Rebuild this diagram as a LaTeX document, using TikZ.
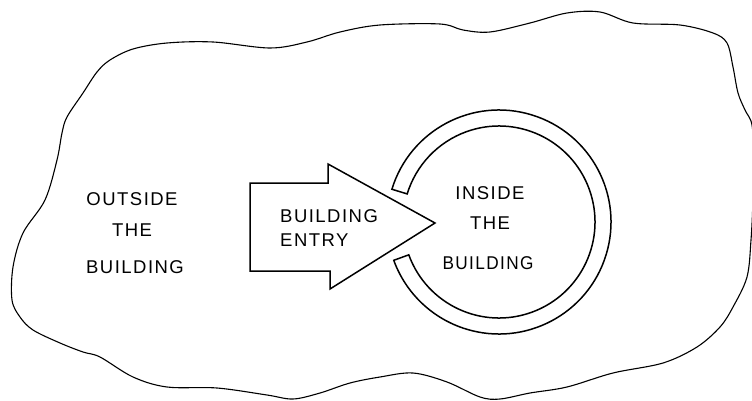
\documentclass[tikz,border=0pt]{standalone}
\usepackage{fontspec}
\newfontfamily\lett[LetterSpace=8]{Liberation Sans}
\begin{document}
\begin{tikzpicture}[x=1pt,y=-1pt,
  lbl/.style={font=\lett\fontsize{18.5}{20}\selectfont, inner sep=0pt, text=black},
  outline/.style={line width=1.1pt, line join=round},
  thick/.style={line width=1.5pt, line join=miter}]
\useasboundingbox (0,0) rectangle (752,401);
% blob (outside the building)
\begin{scope}
\clip (0,0) rectangle (752,401);
\draw[outline] plot[smooth cycle, tension=0.55] coordinates {
 (45,200) (57,160) (62,133) (67,117) (83,93) (97,72) (110,60) (133,49) (167,43)
 (213,42) (270,48) (307,42) (340,32) (380,25) (440,24) (463,30) (490,32) (530,23)
 (567,13) (600,12) (633,23) (680,25) (713,33) (727,43) (733,67) (738,93) (745,110)
 (752,125) (754,160) (753,200) (751,240) (747,277) (733,307) (720,327) (697,347)
 (663,363) (613,373) (567,387) (530,393) (500,399) (480,397) (447,382) (413,373)
 (380,377) (350,383) (320,393) (293,399) (267,395) (217,388) (167,387) (133,377)
 (100,357) (83,352) (60,343) (33,330) (20,317) (12,300) (13,267) (23,233)};
\end{scope}
% ring (inside the building)
\coordinate (c) at (499,222);
\draw[thick] ([shift={(-163:112)}]c) arc[start angle=-163, end angle=160, radius=112]
  -- ([shift={(160:96)}]c) arc[start angle=160, end angle=-163, radius=96] -- cycle;
% arrow (building entry)
\draw[thick] (250,183) -- (328,183) -- (328,164) -- (435,223) -- (330,289)
  -- (330,271) -- (250,271) -- cycle;
% labels
\node[lbl] (o1) at (132,199) {OUTSIDE};
\node[lbl] (o2) at (132,230) {THE};
\node[lbl] (o3) at (135,267) {BUILDING};
\node[lbl, anchor=west] (e1) at (280,216) {BUILDING};
\node[lbl, anchor=west] (e2) at (280,240) {ENTRY};
\node[lbl] (i1) at (490,193) {INSIDE};
\node[lbl] (i2) at (490,223) {THE};
\node[lbl, xscale=0.93] (i3) at (488,263) {BUILDING};
\end{tikzpicture}
\end{document}
